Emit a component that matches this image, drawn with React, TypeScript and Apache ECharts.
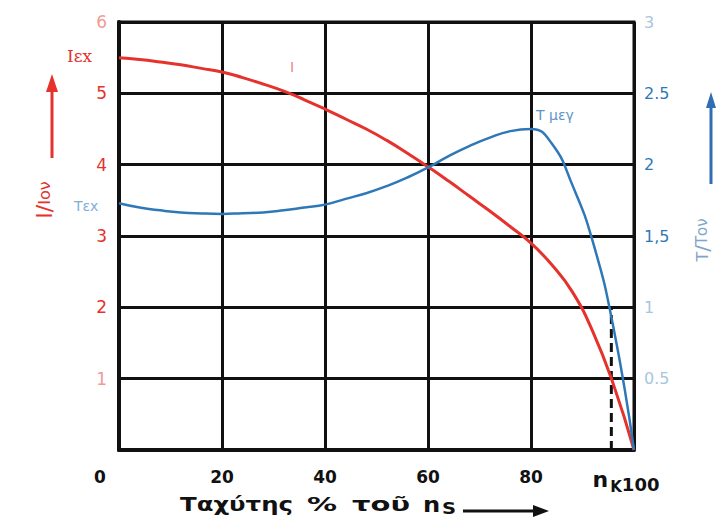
import React, { useEffect, useRef } from "react";
import * as echarts from "echarts";

// X axis (speed, % of n_S)
const xTicks = [0, 20, 40, 60, 80, 100];
// Left axis I/I_on ticks
const leftTicks = [0, 1, 2, 3, 4, 5, 6];
// Right axis T/T_on tick labels
const rightTickLabels: Record<string, string> = {
  "0": "",
  "0.5": "0.5",
  "1": "1",
  "1.5": "1,5",
  "2": "2",
  "2.5": "2.5",
  "3": "3",
};

// Speed samples (% of n_S) at which both curves were read
const speed = [0, 4, 8, 12, 16, 20, 24, 28, 32, 36, 40, 44, 48, 52, 56, 60, 64, 68, 72, 76, 80, 84, 88, 92, 96, 100];
// Current curve I (left axis)
const currentValue = [5.5, 5.475, 5.44, 5.4, 5.35, 5.3, 5.22, 5.13, 5.03, 4.91, 4.78, 4.64, 4.5, 4.34, 4.16, 3.97, 3.77, 3.56, 3.35, 3.13, 2.9, 2.6, 2.22, 1.66, 0.92, 0];
// Torque curve T (right axis)
const torqueValue = [1.73, 1.7, 1.68, 1.665, 1.658, 1.655, 1.66, 1.665, 1.68, 1.7, 1.72, 1.76, 1.8, 1.85, 1.91, 1.98, 2.06, 2.13, 2.19, 2.235, 2.25, 2.15, 1.86, 1.46, 0.86, 0];

// Breakdown speed n_K
const nK = 95.6;
const nKTorque = 1.0;

const RED = "#e5322c";
const BLUE = "#2f78b8";

export default function App() {
  const ref = useRef<HTMLDivElement>(null);
  useEffect(() => {
    if (!ref.current) return;
    const chart = echarts.init(ref.current, null, { renderer: "svg" });
    const curData = speed.map((x, i) => [x, currentValue[i]]);
    const torData = speed.map((x, i) => [x, torqueValue[i]]);
    const labelFont = "DejaVu Sans";
    const titleFont = "bold 20px 'DejaVu Sans'";
    chart.setOption({
      animation: false,
      backgroundColor: "#ffffff",
      grid: {
        left: 119,
        right: 87,
        top: 22,
        bottom: 72,
        show: true,
        borderColor: "#111",
        borderWidth: 3,
        backgroundColor: "transparent",
      },
      xAxis: {
        type: "value",
        min: xTicks[0],
        max: xTicks[xTicks.length - 1],
        interval: 20,
        axisLine: { show: true, lineStyle: { color: "#111", width: 4 } },
        axisTick: { show: false },
        splitLine: { show: true, lineStyle: { color: "#111", width: 3 } },
        axisLabel: {
          margin: 18,
          color: "#111",
          fontFamily: labelFont,
          fontWeight: "bold",
          fontSize: 17,
          formatter: (v: number) => {
            if (v === 0) return "{z|0}";
            if (v === 100) return "{n|n}{k|K}{h|100}";
            return "{d|" + v + "}";
          },
          rich: {
            d: { fontFamily: labelFont, fontWeight: "bold", fontSize: 17, color: "#111" },
            z: { fontFamily: labelFont, fontWeight: "bold", fontSize: 17, color: "#111", padding: [0, 38, 0, 0] },
            n: { fontFamily: labelFont, fontWeight: "bold", fontSize: 22, color: "#111", padding: [0, 2, 10, 0] },
            k: { fontFamily: labelFont, fontWeight: "bold", fontSize: 15, color: "#111", padding: [6, 0, 0, 0] },
            h: { fontFamily: labelFont, fontWeight: "bold", fontSize: 18, color: "#111", padding: [0, 16, 0, 0] },
          },
        },
      },
      yAxis: [
        {
          type: "value",
          min: leftTicks[0],
          max: leftTicks[leftTicks.length - 1],
          interval: 1,
          position: "left",
          axisLine: { show: true, lineStyle: { color: "#111", width: 4 } },
          axisTick: { show: false },
          splitLine: { show: true, lineStyle: { color: "#111", width: 3 } },
          axisLabel: {
            margin: 12,
            fontFamily: labelFont,
            fontSize: 17,
            formatter: (v: number) => {
              if (v === 0) return "";
              if (v === 6 || v === 1) return "{f|" + v + "}";
              return "{s|" + v + "}";
            },
            rich: {
              s: { color: RED, fontFamily: labelFont, fontSize: 17 },
              f: { color: "#f29a95", fontFamily: labelFont, fontSize: 17 },
            },
          },
        },
        {
          type: "value",
          min: 0,
          max: 3,
          interval: 0.5,
          position: "right",
          axisLine: { show: false },
          axisTick: { show: false },
          splitLine: { show: false },
          axisLabel: {
            margin: 10,
            fontFamily: labelFont,
            fontSize: 16,
            formatter: (v: number) => {
              const t = rightTickLabels[String(v)] ?? "";
              if (!t) return "";
              if (v === 1 || v === 0.5 || v === 3) return "{f|" + t + "}";
              return "{s|" + t + "}";
            },
            rich: {
              s: { color: BLUE, fontFamily: labelFont, fontSize: 16 },
              f: { color: "#a9c6de", fontFamily: labelFont, fontSize: 16 },
            },
          },
        },
      ],
      series: [
        {
          name: "I",
          type: "line",
          yAxisIndex: 0,
          data: curData,
          smooth: 0.5,
          showSymbol: false,
          lineStyle: { color: RED, width: 3 },
          z: 5,
        },
        {
          name: "T",
          type: "line",
          yAxisIndex: 1,
          data: torData,
          smooth: 0.5,
          showSymbol: false,
          lineStyle: { color: BLUE, width: 2.5 },
          z: 6,
        },
        {
          name: "nK",
          type: "line",
          yAxisIndex: 1,
          data: [
            [nK, 0],
            [nK, nKTorque],
          ],
          showSymbol: false,
          lineStyle: { color: "#111", width: 3, type: [9, 5] },
          z: 4,
        },
      ],
      graphic: [
        // curve labels
        { type: "text", left: 67, top: 47, style: { text: "Iεx", fill: RED, font: "17px 'DejaVu Serif'" } },
        { type: "text", left: 74, top: 199, style: { text: "Tεx", fill: "#7fb0d8", font: "14px 'DejaVu Sans'" } },
        { type: "text", left: 290, top: 60, style: { text: "I", fill: "#e98a86", font: "14px 'DejaVu Sans'" } },
        { type: "text", left: 536, top: 108, style: { text: "T μεγ", fill: "#5f95c6", font: "14px 'DejaVu Sans'" } },
        // left axis title + arrow
        {
          type: "text",
          x: 44,
          y: 200,
          rotation: Math.PI / 2,
          style: {
            text: "{a|I}{b|/}{c|I}{o|ον}",
            align: "center",
            verticalAlign: "middle",
            rich: {
              a: { fill: RED, font: "22px 'DejaVu Sans'" },
              b: { fill: RED, font: "22px 'DejaVu Sans'" },
              c: { fill: RED, font: "16px 'DejaVu Sans'" },
              o: { fill: RED, font: "16px 'DejaVu Sans'" },
            },
          },
        },
        { type: "line", shape: { x1: 52, y1: 158, x2: 52, y2: 88 }, style: { stroke: RED, lineWidth: 3 } },
        { type: "polygon", shape: { points: [[52, 74], [46, 92], [58, 92]] }, style: { fill: RED } },
        // right axis title + arrow
        {
          type: "text",
          x: 702,
          y: 240,
          rotation: Math.PI / 2,
          style: {
            text: "{a|T}{b|/}{c|T}{o|ον}",
            align: "center",
            verticalAlign: "middle",
            rich: {
              a: { fill: "#7fa6c8", font: "16px 'DejaVu Sans'" },
              b: { fill: "#7fa6c8", font: "20px 'DejaVu Sans'" },
              c: { fill: "#7fa6c8", font: "15px 'DejaVu Sans'" },
              o: { fill: "#7fa6c8", font: "15px 'DejaVu Sans'" },
            },
          },
        },
        { type: "line", shape: { x1: 711, y1: 184, x2: 711, y2: 104 }, style: { stroke: "#2f6db5", lineWidth: 3 } },
        { type: "polygon", shape: { points: [[711, 92], [706, 108], [716, 108]] }, style: { fill: "#2f6db5" } },
        // x axis title + arrow
        { type: "text", x: 180, y: 494, scaleX: 1.22, style: { text: "Ταχύτης", fill: "#111", font: titleFont } },
        { type: "text", x: 307, y: 494, scaleX: 1.5, style: { text: "%", fill: "#111", font: titleFont } },
        { type: "text", x: 352, y: 494, scaleX: 1.45, style: { text: "τοῦ", fill: "#111", font: titleFont } },
        { type: "text", x: 423, y: 494, scaleX: 1.15, style: { text: "n", fill: "#111", font: "bold 21px 'DejaVu Sans'" } },
        { type: "text", x: 442, y: 501, scaleX: 1.3, style: { text: "S", fill: "#111", font: "bold 15px 'DejaVu Sans'" } },
        { type: "line", shape: { x1: 463, y1: 511, x2: 536, y2: 511 }, style: { stroke: "#111", lineWidth: 3 } },
        { type: "polygon", shape: { points: [[549, 511], [533, 505], [533, 517]] }, style: { fill: "#111" } },
      ],
    });
    return () => chart.dispose();
  }, []);
  return (
    <div
      ref={ref}
      style={{ position: "fixed", left: 0, top: 0, width: 721, height: 522, background: "#fff" }}
    />
  );
}
